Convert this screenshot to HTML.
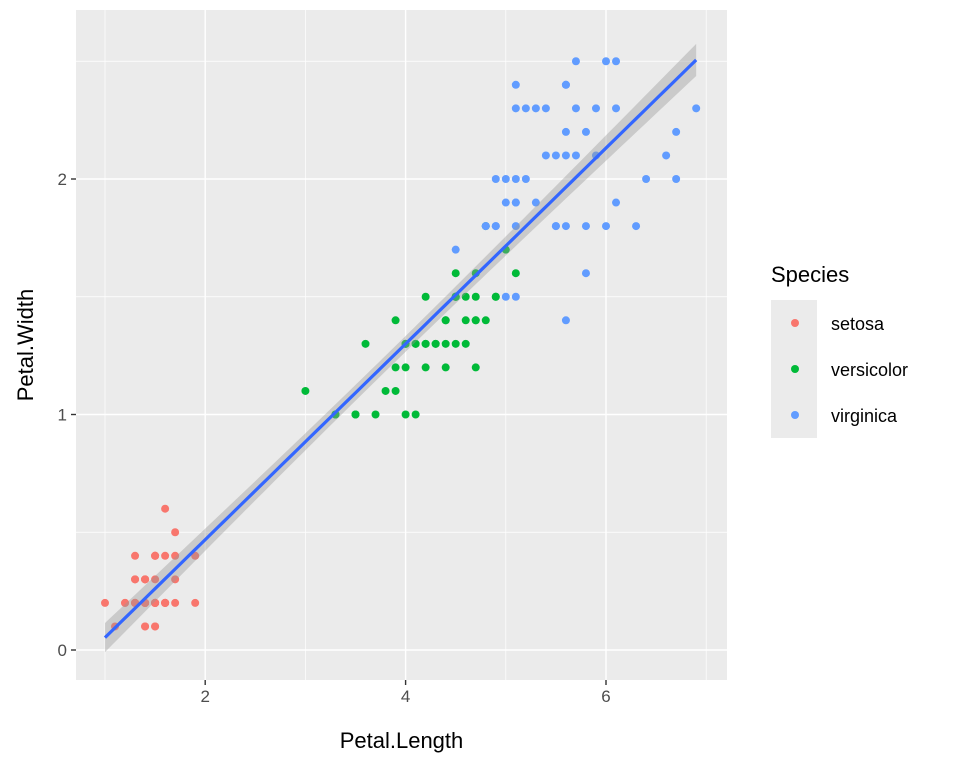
<!DOCTYPE html>
<html><head><meta charset="utf-8"><style>
body{margin:0;background:#fff;}
svg text{font-family:"Liberation Sans",Arial,sans-serif;}
</style></head><body>
<svg id="chart" width="960" height="768">
<rect x="0" y="0" width="960" height="768" fill="#fff"/>
<g id="panel"></g>
</svg>
<script>
const setosaPL=[1.4,1.4,1.3,1.5,1.4,1.7,1.4,1.5,1.4,1.5,1.5,1.6,1.4,1.1,1.2,1.5,1.3,1.4,1.7,1.5,1.7,1.5,1.0,1.7,1.9,1.6,1.6,1.5,1.4,1.6,1.6,1.5,1.5,1.4,1.5,1.2,1.3,1.4,1.3,1.5,1.3,1.3,1.3,1.6,1.9,1.4,1.6,1.4,1.5,1.4];
const setosaPW=[.2,.2,.2,.2,.2,.4,.3,.2,.2,.1,.2,.2,.1,.1,.2,.4,.4,.3,.3,.3,.2,.4,.2,.5,.2,.2,.4,.2,.2,.2,.2,.4,.1,.2,.2,.2,.2,.1,.2,.2,.3,.3,.2,.6,.4,.3,.2,.2,.2,.2];
const versiPL=[4.7,4.5,4.9,4.0,4.6,4.5,4.7,3.3,4.6,3.9,3.5,4.2,4.0,4.7,3.6,4.4,4.5,4.1,4.5,3.9,4.8,4.0,4.9,4.7,4.3,4.4,4.8,5.0,4.5,3.5,3.8,3.7,3.9,5.1,4.5,4.5,4.7,4.4,4.1,4.0,4.4,4.6,4.0,3.3,4.2,4.2,4.2,4.3,3.0,4.1];
const versiPW=[1.4,1.5,1.5,1.3,1.5,1.3,1.6,1.0,1.3,1.4,1.0,1.5,1.0,1.4,1.3,1.4,1.5,1.0,1.5,1.1,1.8,1.3,1.5,1.2,1.3,1.4,1.4,1.7,1.5,1.0,1.1,1.0,1.2,1.6,1.5,1.6,1.5,1.3,1.3,1.3,1.2,1.4,1.2,1.0,1.3,1.2,1.3,1.3,1.1,1.3];
const virgPL=[6.0,5.1,5.9,5.6,5.8,6.6,4.5,6.3,5.8,6.1,5.1,5.3,5.5,5.0,5.1,5.3,5.5,6.7,6.9,5.0,5.7,4.9,6.7,4.9,5.7,6.0,4.8,4.9,5.6,5.8,6.1,6.4,5.6,5.1,5.6,6.1,5.6,5.5,4.8,5.4,5.6,5.1,5.1,5.9,5.7,5.2,5.0,5.2,5.4,5.1];
const virgPW=[2.5,1.9,2.1,1.8,2.2,2.1,1.7,1.8,1.8,2.5,2.0,1.9,2.1,2.0,2.4,2.3,1.8,2.2,2.3,1.5,2.3,2.0,2.0,1.8,2.1,1.8,1.8,1.8,2.1,1.6,1.9,2.0,2.2,1.5,1.4,2.3,2.4,1.8,1.8,2.1,2.4,2.3,1.9,2.3,2.5,2.3,1.9,2.0,2.3,1.8];
const xTicks=[2,4,6];
const yTicks=[0,1,2];
const speciesNames=["setosa","versicolor","virginica"];
const speciesColors=["#F8766D","#00BA38","#619CFF"];

const X0=76,X1=727,Y0=10,Y1=680;
const sx=v=>105+(v-1)*100.2;
const sy=v=>650-v*235.5;
const NS='http://www.w3.org/2000/svg';
const svg=document.getElementById('chart');
const panel=document.getElementById('panel');
function mk(tag,attrs,parent){const e=document.createElementNS(NS,tag);for(const k in attrs)e.setAttribute(k,attrs[k]);(parent||svg).appendChild(e);return e;}

const bg=mk('rect',{x:X0,y:Y0,width:X1-X0,height:Y1-Y0,fill:'#EBEBEB'},panel);


[1,3,5,7].forEach(v=>{const l=mk('line',{x1:sx(v),x2:sx(v),y1:Y0,y2:Y1,stroke:'#fff','stroke-width':0.7},panel);

});
[0.5,1.5,2.5].forEach(v=>{const l=mk('line',{x1:X0,x2:X1,y1:sy(v),y2:sy(v),stroke:'#fff','stroke-width':0.7},panel);

});
xTicks.forEach(v=>{const l=mk('line',{x1:sx(v),x2:sx(v),y1:Y0,y2:Y1,stroke:'#fff','stroke-width':1.4},panel);


const t=mk('line',{x1:sx(v),x2:sx(v),y1:Y1,y2:Y1+5,stroke:'#333','stroke-width':1.4});


const tx=mk('text',{x:sx(v),y:Y1+22,'text-anchor':'middle','font-size':17,fill:'#4D4D4D'});tx.textContent=v;

});
yTicks.forEach(v=>{const l=mk('line',{x1:X0,x2:X1,y1:sy(v),y2:sy(v),stroke:'#fff','stroke-width':1.4},panel);


const t=mk('line',{x1:X0-5,x2:X0,y1:sy(v),y2:sy(v),stroke:'#333','stroke-width':1.4});


const tx=mk('text',{x:X0-9,y:sy(v)+6,'text-anchor':'end','font-size':17,fill:'#4D4D4D'});tx.textContent=v;

});

const groups=[[setosaPL,setosaPW],[versiPL,versiPW],[virgPL,virgPW]];
groups.forEach((g,i)=>{g[0].forEach((x,j)=>{const c=mk('circle',{cx:sx(x),cy:sy(g[1][j]),r:4,fill:speciesColors[i]},panel);

});});

// linear regression fit
const allX=[],allY=[];groups.forEach(g=>{allX.push(...g[0]);allY.push(...g[1]);});
const n=allX.length,mx=allX.reduce((a,b)=>a+b)/n,my=allY.reduce((a,b)=>a+b)/n;
let sxx=0,sxy=0;for(let i=0;i<n;i++){sxx+=(allX[i]-mx)**2;sxy+=(allX[i]-mx)*(allY[i]-my);}
const b=sxy/sxx,a=my-b*mx;let rss=0;for(let i=0;i<n;i++)rss+=(allY[i]-a-b*allX[i])**2;
const sig=Math.sqrt(rss/(n-2));
const xmin=Math.min(...allX),xmax=Math.max(...allX);
let up=[],lo=[],ln=[];
for(let k=0;k<=80;k++){const x=xmin+(xmax-xmin)*k/80;const yh=a+b*x;const se=1.976*sig*Math.sqrt(1/n+(x-mx)**2/sxx);
up.push(sx(x)+','+sy(yh+se));lo.unshift(sx(x)+','+sy(yh-se));ln.push(sx(x)+','+sy(yh));}
const band=mk('polygon',{points:up.concat(lo).join(' '),fill:'#999999','fill-opacity':0.4},panel);


const fit=mk('polyline',{points:ln.join(' '),fill:'none',stroke:'#3366FF','stroke-width':3.2},panel);



const xt=mk('text',{x:(X0+X1)/2,y:748,'text-anchor':'middle','font-size':22,fill:'#000'});xt.textContent='Petal.Length';


const yt=mk('text',{x:0,y:0,'text-anchor':'middle','font-size':22,fill:'#000',transform:'translate(33,'+((Y0+Y1)/2)+') rotate(-90)'});yt.textContent='Petal.Width';



const lt=mk('text',{x:771,y:282,'font-size':22,fill:'#000'});lt.textContent='Species';


const lk=mk('rect',{x:771,y:300,width:46,height:138,fill:'#EBEBEB'});


speciesNames.forEach((s,i)=>{const cy=323+i*46;
const d=mk('circle',{cx:795,cy:cy,r:4,fill:speciesColors[i]});


const t=mk('text',{x:831,y:cy+7,'font-size':18,fill:'#000'});t.textContent=s;

});
</script>
</body></html>
